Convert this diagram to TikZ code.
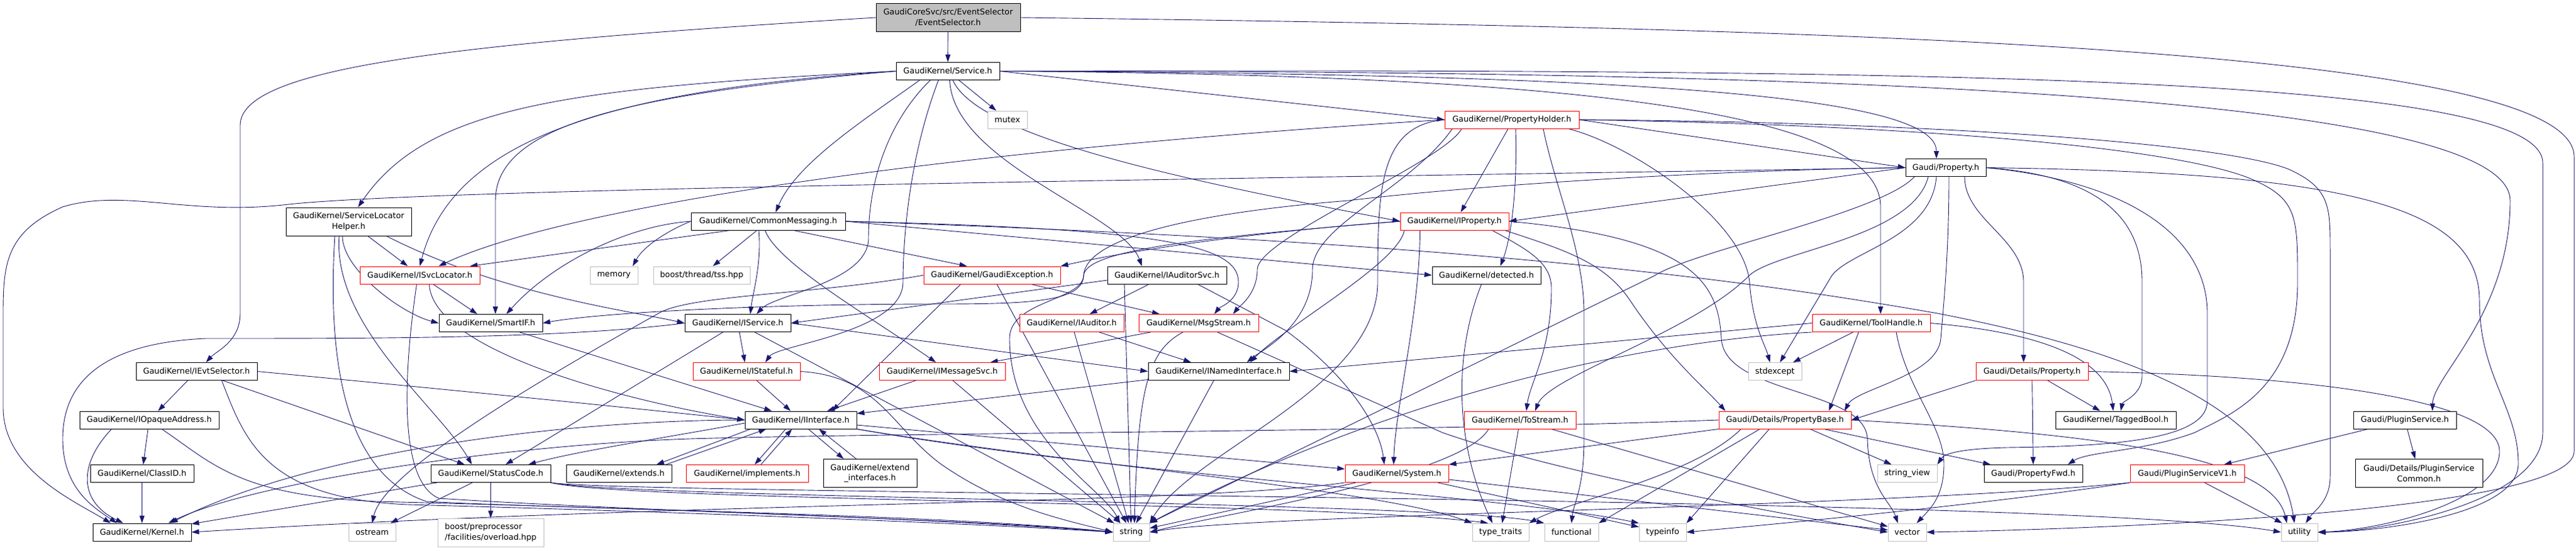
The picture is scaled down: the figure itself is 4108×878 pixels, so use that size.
\documentclass[tikz,border=0pt]{standalone}
\usepackage{fontspec}
\setmainfont{DejaVu Sans}
\usetikzlibrary{arrows.meta}
\pgfdeclarelayer{bg}
\pgfsetlayers{bg,main}
\definecolor{edgec}{HTML}{191970}
\definecolor{gb}{HTML}{BFBFBF}
\definecolor{rb}{HTML}{FF0000}
\newcommand\fnt{\fontsize{12.8pt}{16.7pt}\selectfont}
\tikzset{
 box/.style={draw=black, line width=0.9pt, inner sep=0pt, align=center, font=\fnt, minimum height=28pt, fill=white},
 rbox/.style={box, draw=rb},
 gbox/.style={box, draw=gb},
 tall/.style={minimum height=45pt},
 ed/.style={draw=edgec, line width=0.9pt, -{Triangle[length=12pt,width=8pt]}},
}
\begin{document}
\begin{tikzpicture}[x=1pt,y=-1pt]
\useasboundingbox (0,0) rectangle (4108,878);
% ---------- nodes ----------
\node[box, fill=gb, minimum width=230pt, tall] (es) at (1512,28) {GaudiCoreSvc/src/EventSelector\\/EventSelector.h};
\node[box, minimum width=165pt] (svc) at (1511.5,113.5) {GaudiKernel/Service.h};
\node[gbox, minimum width=63pt] (mutex) at (1606.5,191) {mutex};
\node[rbox, minimum width=214pt] (ph) at (2411,191) {GaudiKernel/PropertyHolder.h};
\node[box, minimum width=200pt, tall] (slh) at (556,353.5) {GaudiKernel/ServiceLocator\\Helper.h};
\node[box, minimum width=246pt] (cm) at (1225,353) {GaudiKernel/CommonMessaging.h};
\node[rbox, minimum width=173pt] (iprop) at (2319.5,353) {GaudiKernel/IProperty.h};
\node[box, minimum width=128pt] (prop) at (3103,267.5) {Gaudi/Property.h};
\node[rbox, minimum width=191pt] (isl) at (669.5,439) {GaudiKernel/ISvcLocator.h};
\node[gbox, minimum width=76pt] (mem) at (979,439) {memory};
\node[gbox, minimum width=154pt] (tss) at (1119,439) {boost/thread/tss.hpp};
\node[rbox, minimum width=218pt] (gexc) at (1582,439) {GaudiKernel/GaudiException.h};
\node[box, minimum width=190pt] (iasvc) at (1861,439) {GaudiKernel/IAuditorSvc.h};
\node[box, minimum width=173pt] (det) at (2370.5,439) {GaudiKernel/detected.h};
\node[box, minimum width=165pt] (sif) at (782.5,515.5) {GaudiKernel/SmartIF.h};
\node[box, minimum width=169pt] (isvc) at (1176.5,515.5) {GaudiKernel/IService.h};
\node[rbox, minimum width=166pt] (iaud) at (1709,515.5) {GaudiKernel/IAuditor.h};
\node[rbox, minimum width=191pt] (msg) at (1911.5,515.5) {GaudiKernel/MsgStream.h};
\node[rbox, minimum width=188pt] (th) at (2984,515.5) {GaudiKernel/ToolHandle.h};
\node[box, minimum width=193pt] (ievt) at (313.5,592.5) {GaudiKernel/IEvtSelector.h};
\node[rbox, minimum width=171pt] (istf) at (1190.5,592.5) {GaudiKernel/IStateful.h};
\node[rbox, minimum width=201pt] (imsg) at (1502.5,592.5) {GaudiKernel/IMessageSvc.h};
\node[box, minimum width=225pt] (inamed) at (1943.5,592.5) {GaudiKernel/INamedInterface.h};
\node[gbox, minimum width=85pt] (stdex) at (2830.5,592.5) {stdexcept};
\node[rbox, minimum width=179pt] (dprop) at (3240.5,592.5) {Gaudi/Details/Property.h};
\node[box, minimum width=222pt] (iopq) at (238,670) {GaudiKernel/IOpaqueAddress.h};
\node[box, minimum width=178pt] (iint) at (1277,670) {GaudiKernel/IInterface.h};
\node[rbox, minimum width=178pt] (tostr) at (2424,670) {GaudiKernel/ToStream.h};
\node[rbox, minimum width=211pt] (pbase) at (2846.5,670) {Gaudi/Details/PropertyBase.h};
\node[box, minimum width=192pt] (tbool) at (3374,670) {GaudiKernel/TaggedBool.h};
\node[box, minimum width=164pt] (plug) at (3835,670) {Gaudi/PluginService.h};
\node[box, minimum width=165pt] (clsid) at (226.5,755.5) {GaudiKernel/ClassID.h};
\node[box, minimum width=191pt] (sc) at (782.5,755.5) {GaudiKernel/StatusCode.h};
\node[box, minimum width=168pt] (ext) at (987,755.5) {GaudiKernel/extends.h};
\node[rbox, minimum width=195pt] (impl) at (1191.5,755.5) {GaudiKernel/implements.h};
\node[box, minimum width=149pt, tall] (extif) at (1387.5,755) {GaudiKernel/extend\\\_interfaces.h};
\node[rbox, minimum width=165pt] (sys) at (2227.5,755.5) {GaudiKernel/System.h};
\node[gbox, minimum width=95pt] (sv) at (3041.5,755.5) {string\_view};
\node[box, minimum width=157pt] (pfwd) at (3242.5,755.5) {Gaudi/PropertyFwd.h};
\node[rbox, minimum width=182pt] (pv1) at (3488,755.5) {Gaudi/PluginServiceV1.h};
\node[box, minimum width=203pt, tall] (psc) at (3857.5,755) {Gaudi/Details/PluginService\\Common.h};
\node[box, minimum width=157pt] (kern) at (226.5,849) {GaudiKernel/Kernel.h};
\node[gbox, minimum width=75pt] (ostr) at (593.5,849) {ostream};
\node[gbox, minimum width=169pt, tall, align=left] (boov) at (782.5,849.5) {boost/preprocessor\\/facilities/overload.hpp};
\node[gbox, minimum width=58pt] (str) at (1804,849) {string};
\node[gbox, minimum width=90pt] (tt) at (2393,849) {type\_traits};
\node[gbox, minimum width=86pt] (func) at (2506,849) {functional};
\node[gbox, minimum width=75pt] (tinfo) at (2651.5,849) {typeinfo};
\node[gbox, minimum width=61pt] (vec) at (3041.5,849) {vector};
\node[gbox, minimum width=58pt] (util) at (3667,849) {utility};
% ---------- edges ----------
\begin{pgfonlayer}{bg}
% EventSelector
\draw[ed] (es) -- (svc);
\draw[ed] (es.west) .. controls (700,70) and (383,110) .. (383,200) -- (383,500) .. controls (383,545) and (345,560) .. ([xshift=15pt]ievt.north);
\draw[ed] (es.east) .. controls (3000,45) and (4105,80) .. (4105,250) -- (4105,720) .. controls (4105,820) and (3300,845) .. (vec.east);
% Service
\draw[ed] (svc.west) .. controls (900,140) and (680,170) .. ([xshift=15pt]slh.north);
\draw[ed] (svc.west) .. controls (950,145) and (720,230) .. (isl.north);
\draw[ed] (svc.west) .. controls (1000,150) and (790,200) .. (790,320) -- ([xshift=7.5pt]sif.north);
\draw[ed] ([xshift=-45pt]svc.south) .. controls (1380,190) and (1270,260) .. ([xshift=12pt]cm.north);
\draw[ed] ([xshift=-28pt]svc.south) .. controls (1410,200) and (1385,300) .. (1385,380) .. controls (1385,450) and (1235,470) .. ([xshift=30pt]isvc.north);
\draw[ed] ([xshift=-15pt]svc.south) .. controls (1450,250) and (1440,380) .. (1440,450) .. controls (1440,530) and (1240,550) .. ([xshift=30pt]istf.north);
\draw[ed] ([xshift=3pt]svc.south) .. controls (1520,260) and (1790,340) .. ([xshift=-40pt]iasvc.north);
\draw[ed] (svc) -- (mutex);
\draw[ed] (svc.east) -- (ph.west);
\draw[ed] ([xshift=8pt]svc.south) .. controls (1560,220) and (1900,290) .. (iprop.west);
\draw[ed] (svc.east) .. controls (2700,118) and (3088,160) .. ([xshift=-15pt]prop.north);
\draw[ed] (svc.east) .. controls (2600,120) and (2999,190) .. (2999,330) -- ([xshift=15pt]th.north);
\draw[ed] (svc.east) .. controls (2900,112) and (4003,150) .. (4003,320) .. controls (4003,500) and (3880,600) .. ([xshift=44pt]plug.north);
\draw[ed] (svc.east) .. controls (3100,110) and (4055,120) .. (4055,260) -- (4055,690) .. controls (4055,800) and (3800,848) .. (util.east);
% ServiceLocatorHelper
\draw[ed] (slh) -- (isl);
\draw[ed] ([xshift=-10pt]slh.south) .. controls (546,430) and (640,500) .. (sif.west);
\draw[ed] ([xshift=60pt]slh.south) .. controls (800,470) and (1000,495) .. (isvc.west);
\draw[ed] ([xshift=-15pt]slh.south) .. controls (530,520) and (700,650) .. ([xshift=-30pt]sc.north);
\draw[ed] ([xshift=-22pt]slh.south) .. controls (520,600) and (560,760) .. (680,800) .. controls (900,812) and (1500,820) .. (str.west);
% ISvcLocator
\draw[ed] (isl) -- (sif);
\draw[ed] ([xshift=15pt]isl.south) .. controls (690,560) and (1000,640) .. (iint.west);
\draw[ed] ([xshift=-5pt]isl.south) .. controls (640,620) and (640,770) .. (700,795) .. controls (1000,815) and (1600,830) .. (str.west);
% SmartIF
\draw[ed] (sif) -- (iint);
% CommonMessaging
\draw[ed] ([xshift=-60pt]cm.south) -- ([xshift=80pt]isl.north);
\draw[ed] (cm.west) .. controls (1000,360) and (880,420) .. ([xshift=25pt]sif.north);
\draw[ed] (cm.west) .. controls (1060,370) and (1025,395) .. ([xshift=30pt]mem.north);
\draw[ed] (cm) -- (tss);
\draw[ed] ([xshift=-15pt]cm.south) .. controls (1215,420) and (1200,470) .. ([xshift=20pt]isvc.north);
\draw[ed] ([xshift=-5pt]cm.south) .. controls (1240,420) and (1380,500) .. ([xshift=-10pt]imsg.north);
\draw[ed] ([xshift=40pt]cm.south) -- ([xshift=-40pt]gexc.north);
\draw[ed] (cm.east) .. controls (1850,365) and (1975,390) .. (1975,450) .. controls (1975,480) and (1945,490) .. ([xshift=25pt]msg.north);
\draw[ed] (cm.east) -- (det.west);
\draw[ed] (cm.east) .. controls (2300,385) and (2750,440) .. (3090,500) .. controls (3400,560) and (3630,650) .. ([xshift=-8pt]util.north);
% GaudiException
\draw[ed] (gexc) -- (msg);
\draw[ed] (gexc) -- (str);
\draw[ed] ([xshift=-50pt]gexc.south) -- ([xshift=50pt]iint.north);
\draw[ed] (gexc.west) .. controls (1300,470) and (1100,470) .. (1050,500) .. controls (800,640) and (610,760) .. (ostr.north);
% IAuditorSvc
\draw[ed] ([yshift=-8pt]iasvc.west) -- (isvc.east);
\draw[ed] (iasvc) -- (iaud);
\draw[ed] ([xshift=-68pt]iasvc.south) -- (str);
\draw[ed] ([xshift=49pt]iasvc.south) -- (2050,527) .. controls (2150,600) and (2200,680) .. ([xshift=-20pt]sys.north);
% IService
\draw[ed] (isvc) -- (istf);
\draw[ed] (isvc.east) -- (inamed.west);
\draw[ed] (isvc) -- (sc);
\draw[ed] (isvc) -- (str);
\draw[ed] (isvc.west) .. controls (900,540) and (600,540) .. (328,540) .. controls (150,548) and (100,620) .. (100,700) .. controls (100,780) and (150,810) .. ([xshift=-40pt]kern.north);
% IAuditor
\draw[ed] (iaud) -- (inamed);
\draw[ed] (iaud) -- (str);
% MsgStream
\draw[ed] (msg) -- (imsg);
\draw[ed] ([xshift=-25pt]msg.south) .. controls (1830,560) and (1815,620) .. ([xshift=5pt]str.north);
\draw[ed] ([xshift=30pt]msg.south) -- (2300,690) .. controls (2500,760) and (2900,830) .. (vec.west);
% IStateful
\draw[ed] (istf) -- (iint);
\draw[ed] (istf.east) .. controls (1400,600) and (1420,680) .. (1500,740) .. controls (1600,810) and (1700,830) .. (str.west);
% IMessageSvc
\draw[ed] (imsg) -- (iint);
\draw[ed] (imsg) -- (str);
% INamedInterface
\draw[ed] (inamed) -- (iint);
\draw[ed] (inamed) -- (str);
% IInterface and its mixins
\draw[ed] ([xshift=-24pt]iint.south) -- ([xshift=12pt]impl.north);
\draw[ed] ([xshift=22pt]impl.north) -- ([xshift=-14pt]iint.south);
\draw[ed] ([xshift=12pt]iint.south) -- ([xshift=-42pt]extif.north);
\draw[ed] ([xshift=-22pt]extif.north) -- ([xshift=29pt]iint.south);
\draw[ed] ([xshift=-80pt]iint.south) -- ([xshift=60pt]ext.north);
\draw[ed] ([xshift=75pt]ext.north) -- ([xshift=-55pt]iint.south);
\draw[ed] ([yshift=-5pt]iint.west) .. controls (1050,700) and (920,720) .. ([xshift=60pt]sc.north);
\draw[ed] (iint.west) .. controls (900,670) and (500,720) .. ([xshift=45pt]kern.north);
\draw[ed] (iint) -- (sys);
\draw[ed] (iint.south east) .. controls (1700,740) and (2200,780) .. (tt.north west);
\draw[ed] (iint.south east) .. controls (1800,760) and (2400,790) .. (tinfo.north west);
% StatusCode
\draw[ed] (sc) -- (kern);
\draw[ed] (sc) -- (ostr);
\draw[ed] (sc) -- (boov);
\draw[ed] (sc.south east) .. controls (1000,800) and (2100,800) .. ([xshift=-20pt]tt.north);
\draw[ed] (sc.south east) .. controls (1000,795) and (2300,800) .. (func.north west);
\draw[ed] (sc.south east) .. controls (1000,790) and (3300,790) .. (util.west);
% Event selector family
\draw[ed] (clsid) -- (kern);
\draw[ed] (iopq) -- (clsid);
\draw[ed] ([xshift=-60pt]iopq.south) .. controls (125,740) and (125,800) .. ([xshift=-30pt]kern.north);
\draw[ed] ([xshift=20pt]iopq.south) .. controls (340,740) and (380,790) .. (600,800) .. controls (1200,815) and (1600,835) .. (str.west);
\draw[ed] (ievt) -- (iopq);
\draw[ed] (ievt) -- (sc);
\draw[ed] (ievt.east) .. controls (700,620) and (1000,650) .. (iint.west);
\draw[ed] ([xshift=40pt]ievt.south) .. controls (390,700) and (420,795) .. (650,805) .. controls (1200,820) and (1600,838) .. (str.west);
% System
\draw[ed] (sys) -- (str);
\draw[ed] (sys) -- (tinfo);
\draw[ed] (sys) -- (vec);
\draw[ed] (sys.south west) .. controls (1900,805) and (1100,800) .. (kern.east);
% detected
\draw[ed] ([xshift=-8pt]det.south) .. controls (2320,560) and (2318,700) .. ([xshift=-13pt]tt.north);
% ToStream
\draw[ed] (tostr) -- (tt);
\draw[ed] (tostr) -- (vec);
\draw[ed] ([xshift=-50pt]tostr.south) .. controls (2330,760) and (1950,820) .. (str.east);
% IProperty
\draw[ed] (iprop.west) .. controls (2000,370) and (1800,400) .. (gexc.north east);
\draw[ed] (iprop.west) .. controls (1900,380) and (1730,400) .. (1728,440) .. controls (1725,480) and (1610,480) .. (1610,540) .. controls (1610,700) and (1760,780) .. ([xshift=-18pt]str.north);
\draw[ed] ([xshift=-80pt]iprop.south) .. controls (2230,420) and (2050,520) .. ([xshift=50pt]inamed.north);
\draw[ed] ([xshift=-55pt]iprop.south) .. controls (2264,500) and (2225,650) .. ([xshift=-5pt]sys.north);
\draw[ed] ([xshift=60pt]iprop.south) .. controls (2440,400) and (2474,420) .. (2474,460) .. controls (2474,560) and (2440,610) .. ([xshift=10pt]tostr.north);
\draw[ed] ([xshift=80pt]iprop.south) .. controls (2500,400) and (2560,420) .. (2600,480) .. controls (2660,570) and (2720,620) .. ([xshift=-95pt]pbase.north);
\draw[ed] (iprop.east) .. controls (2700,380) and (2740,450) .. (2745,540) .. controls (2750,630) and (2975,620) .. (2978,700) .. controls (2980,780) and (3015,800) .. ([xshift=-15pt]vec.north);
% PropertyHolder
\draw[ed] (ph.west) .. controls (1500,240) and (900,330) .. ([xshift=30pt]isl.north);
\draw[ed] ([xshift=-80pt]ph.south) .. controls (2300,260) and (2005,380) .. (2005,430) .. controls (2005,470) and (1975,490) .. ([xshift=55pt]msg.north);
\draw[ed] ([xshift=-95pt]ph.south) .. controls (2250,300) and (2093,360) .. (2093,430) .. controls (2093,520) and (2010,560) .. ([xshift=45pt]inamed.north);
\draw[ed] (ph.west) .. controls (2200,200) and (2197,300) .. (2197,450) .. controls (2197,620) and (1900,720) .. (str.north east);
\draw[ed] ([xshift=-6pt]ph.south) -- ([xshift=10pt]iprop.north);
\draw[ed] ([xshift=6pt]ph.south) .. controls (2420,300) and (2410,380) .. ([xshift=22pt]det.north);
\draw[ed] ([xshift=50pt]ph.south) .. controls (2480,300) and (2526,400) .. (2526,500) -- (2526,700) .. controls (2526,780) and (2510,800) .. (func.north);
\draw[ed] ([xshift=90pt]ph.south) .. controls (2600,230) and (2780,350) .. (2790,450) .. controls (2795,520) and (2815,550) .. ([xshift=-8pt]stdex.north);
\draw[ed] (ph.east) -- (prop.west);
\draw[ed] (ph.east) .. controls (3100,195) and (3550,230) .. (3650,270) .. controls (3716,300) and (3716,330) .. (3716,400) -- (3716,760) .. controls (3716,800) and (3690,815) .. ([xshift=10pt]util.north);
\draw[ed] (ph.east) .. controls (3100,200) and (3500,240) .. (3600,290) .. controls (3664,320) and (3664,350) .. (3664,450) .. controls (3664,620) and (3560,660) .. (3500,690) .. controls (3420,720) and (3330,720) .. ([xshift=55pt]pfwd.north);
% Property
\draw[ed] (prop.west) .. controls (2000,285) and (700,300) .. (460,326) .. controls (300,345) and (200,300) .. (100,330) .. controls (10,370) and (5,420) .. (5,500) -- (5,650) .. controls (5,750) and (120,800) .. ([xshift=-50pt]kern.north);
\draw[ed] (prop.west) .. controls (2800,270) and (2400,290) .. (2150,320) .. controls (1900,340) and (1730,380) .. (1728,440) .. controls (1726,480) and (1650,485) .. (1500,485) .. controls (1200,485) and (950,500) .. (sif.east);
\draw[ed] (prop.west) -- (iprop.east);
\draw[ed] ([xshift=30pt]prop.south) .. controls (3133,350) and (3227,380) .. (3227,450) -- ([xshift=-13.5pt]dprop.north);
\draw[ed] (prop.east) .. controls (3350,280) and (3416,350) .. (3416,450) -- (3416,600) .. controls (3416,630) and (3385,640) .. ([xshift=8pt]tbool.north);
\draw[ed] (prop.east) .. controls (3400,290) and (3520,380) .. (3520,500) -- (3520,640) .. controls (3520,705) and (3350,712) .. (3200,714) .. controls (3120,716) and (3100,725) .. (sv.north east);
\draw[ed] (prop.east) .. controls (3750,275) and (3954,330) .. (3954,480) .. controls (3954,600) and (4016,650) .. (4016,740) .. controls (4016,820) and (3800,848) .. (util.east);
\draw[ed] ([xshift=5pt]prop.south) .. controls (3108,400) and (3100,480) .. (3095,540) .. controls (3090,600) and (2960,620) .. ([xshift=95pt]pbase.north);
\draw[ed] ([xshift=-28pt]prop.south) .. controls (3050,380) and (2830,400) .. (2789,440) .. controls (2700,530) and (2470,600) .. ([xshift=24pt]tostr.north);
\draw[ed] ([xshift=-15pt]prop.south) .. controls (3080,380) and (2950,400) .. (2921,440) -- ([xshift=8pt]stdex.north);
\draw[ed] ([xshift=-50pt]prop.south) .. controls (3000,340) and (2700,400) .. (2638,440) -- (str.north east);
% ToolHandle
\draw[ed] (th.west) -- (inamed.east);
\draw[ed] (th) -- (stdex);
\draw[ed] (th.east) .. controls (3250,530) and (3360,570) .. ([xshift=-4pt]tbool.north);
\draw[ed] ([xshift=-20pt]th.south) -- ([xshift=70pt]pbase.north);
\draw[ed] ([xshift=40pt]th.south) .. controls (3040,620) and (3100,680) .. (3100,740) .. controls (3100,790) and (3080,810) .. ([xshift=15pt]vec.north);
\draw[ed] (th.south west) .. controls (2600,545) and (2200,640) .. (str.north east);
% Details/Property
\draw[ed] (dprop.south west) -- (pbase.east);
\draw[ed] (dprop) -- (tbool);
\draw[ed] (dprop) -- (pfwd);
\draw[ed] (dprop.east) .. controls (3700,600) and (3986,640) .. (3986,720) .. controls (3986,800) and (3800,845) .. (util.east);
% PropertyBase
\draw[ed] (pbase.west) .. controls (2200,690) and (1450,690) .. (1100,700) .. controls (800,710) and (400,770) .. ([xshift=42pt]kern.north);
\draw[ed] (pbase.south west) -- (sys.north east);
\draw[ed] ([xshift=-40pt]pbase.south) -- (func.north east);
\draw[ed] ([xshift=-25pt]pbase.south) -- (tinfo.north east);
\draw[ed] ([xshift=40pt]pbase.south) -- ([xshift=-25pt]sv.north);
\draw[ed] ([xshift=62pt]pbase.south) -- ([xshift=-68pt]pfwd.north);
\draw[ed] (pbase.east) .. controls (3300,690) and (3620,720) .. ([xshift=-20pt]util.north);
\draw[ed] ([xshift=-70pt]pbase.south) .. controls (2700,760) and (2500,800) .. (tt.north east);
% Plugin service
\draw[ed] (plug) -- (pv1);
\draw[ed] (plug) -- (psc);
\draw[ed] (pv1) -- (util);
\draw[ed] (pv1.south west) .. controls (3200,800) and (2900,830) .. (tinfo.east);
\draw[ed] (pv1.south west) .. controls (3000,810) and (2000,820) .. (str.east);
\end{pgfonlayer}
\end{tikzpicture}
\end{document}
